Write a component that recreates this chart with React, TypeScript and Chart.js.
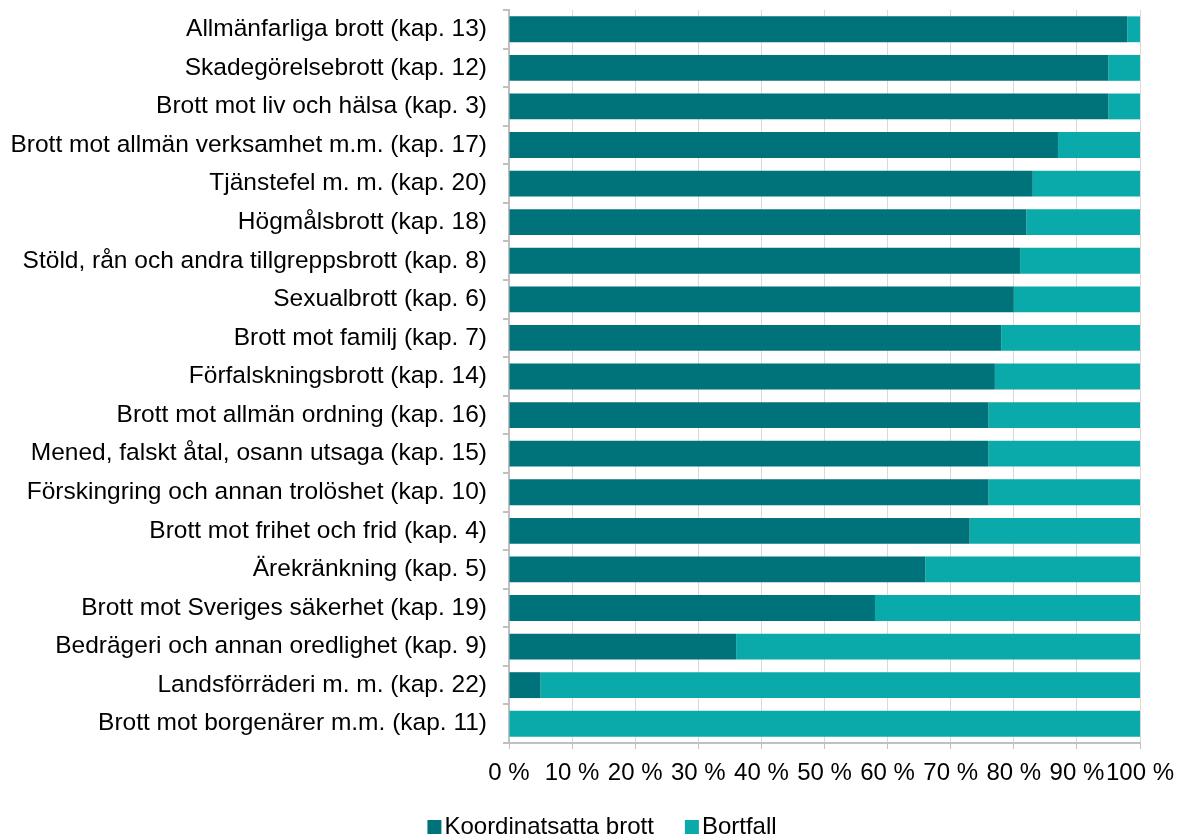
import React, { useEffect, useRef } from "react";
import { Chart, registerables } from "chart.js";

Chart.register(...registerables);

const categories: string[] = [
  "Allmänfarliga brott (kap. 13)",
  "Skadegörelsebrott (kap. 12)",
  "Brott mot liv och hälsa (kap. 3)",
  "Brott mot allmän verksamhet m.m. (kap. 17)",
  "Tjänstefel m. m. (kap. 20)",
  "Högmålsbrott (kap. 18)",
  "Stöld, rån och andra tillgreppsbrott (kap. 8)",
  "Sexualbrott (kap. 6)",
  "Brott mot familj (kap. 7)",
  "Förfalskningsbrott (kap. 14)",
  "Brott mot allmän ordning (kap. 16)",
  "Mened, falskt åtal, osann utsaga (kap. 15)",
  "Förskingring och annan trolöshet (kap. 10)",
  "Brott mot frihet och frid (kap. 4)",
  "Ärekränkning (kap. 5)",
  "Brott mot Sveriges säkerhet (kap. 19)",
  "Bedrägeri och annan oredlighet (kap. 9)",
  "Landsförräderi m. m. (kap. 22)",
  "Brott mot borgenärer m.m. (kap. 11)",
];

const koordinatsatta: number[] = [98, 95, 95, 87, 83, 82, 81, 80, 78, 77, 76, 76, 76, 73, 66, 58, 36, 5, 0];
const bortfall: number[] = [2, 5, 5, 13, 17, 18, 19, 20, 22, 23, 24, 24, 24, 27, 34, 42, 64, 95, 100];

const seriesNames: string[] = ["Koordinatsatta brott", "Bortfall"];
const xTicks: number[] = [0, 10, 20, 30, 40, 50, 60, 70, 80, 90, 100];

const DARK = "#00737A";
const LIGHT = "#0AAAAA";
const FONT = "'Liberation Sans', Arial, sans-serif";

const customLegend = {
  id: "customLegend",
  afterDraw(chart: any) {
    const ctx = chart.ctx;
    const items = chart.data.datasets;
    ctx.save();
    ctx.font = `24px ${FONT}`;
    ctx.textBaseline = "middle";
    ctx.textAlign = "left";
    const box = 14;
    const gap = 3;
    const itemGap = 31;
    const widths = items.map((d: any) => box + gap + ctx.measureText(d.label).width);
    const total = widths.reduce((a: number, b: number) => a + b, 0) + itemGap * (items.length - 1);
    let x = 602 - total / 2;
    const y = 827;
    items.forEach((d: any, i: number) => {
      ctx.fillStyle = d.backgroundColor;
      ctx.fillRect(x, y - box / 2, box, box);
      ctx.fillStyle = "#000";
      ctx.fillText(d.label, x + box + gap, y);
      x += widths[i] + itemGap;
    });
    ctx.restore();
  },
};

export default function App() {
  const ref = useRef<HTMLCanvasElement | null>(null);
  useEffect(() => {
    if (!ref.current) return;
    const chart = new Chart(ref.current, {
      type: "bar",
      data: {
        labels: categories,
        datasets: [
          {
            label: seriesNames[0],
            data: koordinatsatta,
            backgroundColor: DARK,
            borderWidth: 0,
            barPercentage: 0.67,
            categoryPercentage: 1,
          },
          {
            label: seriesNames[1],
            data: bortfall,
            backgroundColor: LIGHT,
            borderWidth: 0,
            barPercentage: 0.67,
            categoryPercentage: 1,
          },
        ],
      },
      options: {
        indexAxis: "y",
        animation: false,
        responsive: false,
        layout: { padding: { top: 10, right: 39, bottom: 0, left: 0 } },
        plugins: {
          legend: { display: false },
          tooltip: { enabled: false },
          title: { display: false },
        },
        scales: {
          x: {
            stacked: true,
            min: 0,
            max: 100,
            afterBuildTicks: (scale: any) => {
              scale.ticks = xTicks.map((v) => ({ value: v }));
            },
            afterFit: (scale: any) => {
              scale.height = 93;
              scale.paddingLeft = 0;
              scale.paddingRight = 0;
            },
            ticks: {
              autoSkip: false,
              maxRotation: 0,
              padding: 10,
              color: "#000",
              font: { family: FONT, size: 24 },
              callback: (v: any) => `${v} %`,
            },
            grid: {
              color: "#d9d9d9",
              lineWidth: 1,
              tickLength: 6,
              tickColor: "#c0c0c0",
            },
            border: { color: "#c0c0c0", width: 2 },
          },
          y: {
            stacked: true,
            afterFit: (scale: any) => {
              scale.width = 509;
              scale.paddingTop = 0;
              scale.paddingBottom = 0;
            },
            ticks: {
              autoSkip: false,
              padding: 16,
              color: "#000",
              font: { family: FONT, size: 24.5 },
            },
            grid: {
              offset: true,
              drawOnChartArea: false,
              tickLength: 6,
              tickColor: "#c0c0c0",
              lineWidth: 2,
            },
            border: { color: "#c0c0c0", width: 2 },
          },
        },
      },
      plugins: [customLegend],
    });
    return () => chart.destroy();
  }, []);
  return (
    <div style={{ position: "fixed", left: 0, top: 0, width: 1179, height: 836, background: "#fff" }}>
      <canvas ref={ref} width={1179} height={836} style={{ display: "block" }} />
    </div>
  );
}
